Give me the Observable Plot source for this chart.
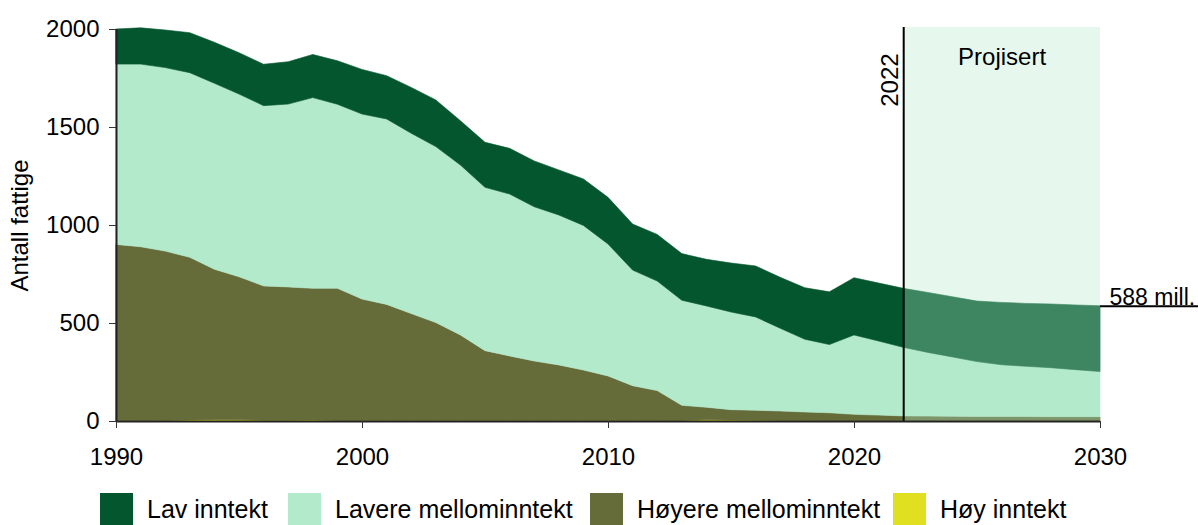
<!DOCTYPE html>
<html><head><meta charset="utf-8">
<script src="https://cdn.jsdelivr.net/npm/d3@7"></script>
<script src="https://cdn.jsdelivr.net/npm/@observablehq/plot@0.6"></script>
<style>
body{margin:0;background:#fff;font-family:"Liberation Sans",Arial,sans-serif;}
#chart svg{display:block;font-family:"Liberation Sans",Arial,sans-serif;}
#legend{position:relative;height:45px;width:1198px;}
.item{position:absolute;top:13px;display:flex;align-items:center;font-size:25px;color:#000;white-space:nowrap;}
.sw{width:33px;height:32px;margin-right:14px;flex:none;}
</style></head><body>
<div id="chart"></div>
<div id="legend"></div>
<script>
const years = [1990,1991,1992,1993,1994,1995,1996,1997,1998,1999,2000,2001,2002,2003,2004,2005,2006,2007,2008,2009,2010,2011,2012,2013,2014,2015,2016,2017,2018,2019,2020,2021,2022,2023,2024,2025,2026,2027,2028,2029,2030];
const hoyInntekt = [1,1,2,5,7,6,4,4,5,3,2,2,2,2,2,2,2,2,2,2,2,2,2,3,6,5,4,3,2,1,1,1,1,1,1,1,1,1,1,1,1];
const hoyereMellom = [900,888,865,830,767,730,685,680,672,674,620,593,546,500,437,357,330,304,284,258,228,178,153,77,64,53,51,48,44,41,33,29,25,24,23,22,22,22,21,21,21];
const lavereMellom = [920,932,936,942,949,932,920,933,973,939,944,946,920,898,867,833,826,787,765,738,673,590,559,536,517,498,476,422,371,348,405,378,350,325,303,280,264,256,250,240,230];
const lavInntekt = [179,185,192,204,209,211,211,216,220,222,228,221,234,238,226,230,233,234,230,237,238,235,238,238,238,250,260,260,263,269,292,296,301,306,307,309,318,321,325,330,336];

const seriesNames = ["Lav inntekt","Lavere mellominntekt","Høyere mellominntekt","Høy inntekt"];
const seriesColors = ["#04562e","#b3eacb","#656c3a","#e0e020"];
const stackOrder = [["Høy inntekt",hoyInntekt],["Høyere mellominntekt",hoyereMellom],["Lavere mellominntekt",lavereMellom],["Lav inntekt",lavInntekt]];

const xTicks = [1990,2000,2010,2020,2030];
const yTicks = [0,500,1000,1500,2000];
const projStart = 2022;
const projEnd = 2030;
const finalTotal = 588;
const finalLabel = "588 mill.";
const yLabel = "Antall fattige";
const projLabel = "Projisert";

const table = [];
for (const [name, vals] of stackOrder) {
  years.forEach((yr, i) => table.push({year: yr, group: name, value: vals[i]}));
}

const fs = 24;
const plot = Plot.plot({
  width: 1198,
  height: 480,
  marginLeft: 116,
  marginRight: 98,
  marginTop: 29,
  marginBottom: 59,
  style: {fontSize: fs + "px", fontFamily: "Liberation Sans, Arial, sans-serif", color: "#000", background: "#fff"},
  x: {domain: [1990, 2030]},
  y: {domain: [0, 2000]},
  color: {domain: seriesNames, range: seriesColors},
  marks: [
    Plot.areaY(table, {x: "year", y: "value", fill: "group", stroke: "group", strokeWidth: 0.6, order: null}),
    Plot.rect([projLabel], {x1: () => projStart, x2: () => projEnd, y1: () => 0, y2: () => 2010, fill: "#b3eacb", fillOpacity: 0.33}),
    Plot.ruleX([projStart], {y1: 0, y2: () => 2010, stroke: "#000", strokeWidth: 2}),
    Plot.text([String(projStart)], {x: () => projStart, y: () => 1878, text: d => d, rotate: -90, textAnchor: "end", lineAnchor: "middle", dx: -13, fontSize: fs, fill: "#000"}),
    Plot.text([projLabel], {x: () => (projStart + projEnd) / 2, y: () => 1857, text: d => d, lineAnchor: "middle", fontSize: fs, fill: "#000"}),
    Plot.ruleY([finalTotal], {x1: () => projEnd, x2: () => 2034, stroke: "#000", strokeWidth: 2}),
    Plot.text([finalLabel], {x: () => projEnd, y: () => finalTotal, text: d => d, textAnchor: "start", lineAnchor: "bottom", dx: 9, dy: -1, fontSize: 23, fill: "#000"}),
    Plot.ruleX([1990], {y1: 0, y2: 2000, stroke: "#222", strokeWidth: 2}),
    Plot.ruleY([0], {stroke: "#222", strokeWidth: 2}),
    Plot.axisX({ticks: xTicks, tickFormat: "d", tickSize: 7, tickPadding: 19, stroke: "#333", label: null, fontSize: fs}),
    Plot.axisY({ticks: yTicks, tickFormat: "d", tickSize: 7, tickPadding: 10, stroke: "#333", label: null, fontSize: fs}),
    Plot.text([yLabel], {frameAnchor: "left", text: d => d, rotate: -90, dx: -96, textAnchor: "middle", lineAnchor: "middle", fontSize: fs, fill: "#000"})
  ]
});
document.getElementById("chart").appendChild(plot);

const legend = document.getElementById("legend");
const lefts = [100, 288, 590, 893];
seriesNames.forEach((n, i) => {
  const it = document.createElement("div");
  it.className = "item";
  it.style.left = lefts[i] + "px";
  const sw = document.createElement("span");
  sw.className = "sw";
  sw.style.background = seriesColors[i];
  const tx = document.createElement("span");
  tx.textContent = n;
  it.appendChild(sw); it.appendChild(tx);
  legend.appendChild(it);
});
</script>
</body></html>
